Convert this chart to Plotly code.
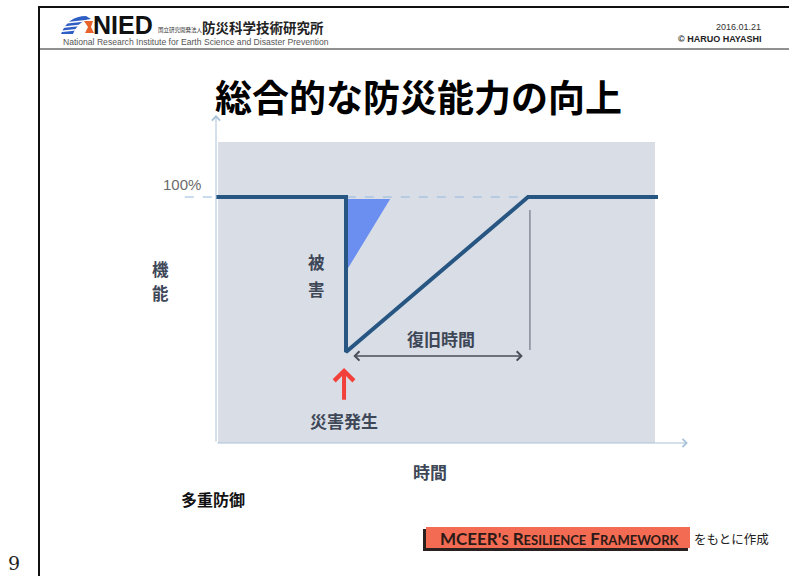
import plotly.graph_objects as go

# ---- Function curve over time (resilience triangle) ----
time = [0, 10, 10, 24, 34]            # disaster at t=10, full recovery at t=24
function_pct = [100, 100, 37, 100, 100]

# Damage wedge drawn just right of the drop
loss_t = [10.15, 13.4, 10.15]
loss_pct = [99.2, 99.2, 71.0]

baseline_pct = 100
disaster_t = 10
recovered_t = 24
panel_t = [0.15, 33.77]
panel_pct = [0, 122.4]
axis_end_t = 36.3
axis_end_pct = 133.3

# Pixel mapping of the chart axes (13 px per time unit, 2.46 px per percent)
W, H = 789, 576
X_ORIGIN, PX_PER_T = 216, 13.0
Y_ORIGIN, PX_PER_PCT = 443, 2.46
x_range = [-X_ORIGIN / PX_PER_T, (W - X_ORIGIN) / PX_PER_T]
y_range = [-(H - Y_ORIGIN) / PX_PER_PCT, Y_ORIGIN / PX_PER_PCT]

def px(x):
    return x / W

def py(y):
    return 1 - y / H

JP = "Noto Sans CJK JP"
LINE_BLUE = "#285683"
AXIS_BLUE = "#a9c3da"
TEXT_SLATE = "#3e4757"

fig = go.Figure()

# Damage wedge
fig.add_trace(go.Scatter(
    x=loss_t, y=loss_pct, mode="lines", fill="toself",
    fillcolor="#6b8ff0", line=dict(width=0, color="#6b8ff0"),
    hoverinfo="skip", showlegend=False))

# Function curve
fig.add_trace(go.Scatter(
    x=time, y=function_pct, mode="lines",
    line=dict(color=LINE_BLUE, width=4), hoverinfo="skip", showlegend=False))

shapes = []
# Background panel
shapes.append(dict(type="rect", xref="x", yref="y", layer="below",
                   x0=panel_t[0], x1=panel_t[1], y0=panel_pct[0], y1=panel_pct[1],
                   fillcolor="#d9dee6", line=dict(width=0)))
# 100% reference line (behind the curve)
shapes.append(dict(type="line", xref="x", yref="y", layer="below",
                   x0=-2.4, x1=recovered_t + 0.1, y0=baseline_pct, y1=baseline_pct,
                   line=dict(color="#93b8dc", width=1, dash="dash")))
# Marker line at recovery end
shapes.append(dict(type="line", xref="x", yref="y",
                   x0=recovered_t + 0.15, x1=recovered_t + 0.15, y0=37.8, y1=94.7,
                   line=dict(color="#5a6270", width=1)))

# Slide frame and header rules
shapes.append(dict(type="line", xref="paper", yref="paper",
                   x0=px(39), x1=1, y0=py(7), y1=py(7), line=dict(color="#111", width=2)))
shapes.append(dict(type="line", xref="paper", yref="paper",
                   x0=px(39), x1=1, y0=py(49), y1=py(49), line=dict(color="#222", width=1)))
shapes.append(dict(type="line", xref="paper", yref="paper",
                   x0=px(39), x1=px(39), y0=py(6), y1=0, line=dict(color="#111", width=2)))

# NIED logo swoosh (blue arch with white stripes) and orange accent
shapes.append(dict(type="path", xref="paper", yref="paper",
                   path=f"M {px(61)},{py(34)} Q {px(68)},{py(16)} {px(86)},{py(16)} "
                        f"L {px(91)},{py(19)} Q {px(79)},{py(20)} {px(73)},{py(34)} Z",
                   fillcolor="#2f5fc4", line=dict(width=0)))
for yy in (22.0, 26.0, 30.0):
    shapes.append(dict(type="line", xref="paper", yref="paper",
                       x0=px(60), x1=px(88), y0=py(yy + 1.5), y1=py(yy - 1.5),
                       line=dict(color="white", width=1.3)))
shapes.append(dict(type="path", xref="paper", yref="paper",
                   path=f"M {px(84)},{py(21)} L {px(93)},{py(21)} L {px(91)},{py(27)} "
                        f"L {px(94)},{py(33)} L {px(85)},{py(33)} L {px(88)},{py(27)} Z",
                   fillcolor="#e8632c", line=dict(width=0)))

# MCEER label box with dark shadow
shapes.append(dict(type="rect", xref="paper", yref="paper",
                   x0=px(423), x1=px(688), y0=py(551), y1=py(529),
                   fillcolor="#2a2020", line=dict(width=0)))
shapes.append(dict(type="rect", xref="paper", yref="paper",
                   x0=px(426), x1=px(690), y0=py(548), y1=py(527),
                   fillcolor="#f26b52", line=dict(width=0)))

annotations = []

def label(text, x, y, size, color="#000", family=JP, xref="paper", yref="paper",
          xanchor="center", yanchor="middle", bold=False):
    annotations.append(dict(
        text=f"<b>{text}</b>" if bold else text, x=x, y=y, xref=xref, yref=yref,
        xanchor=xanchor, yanchor=yanchor, showarrow=False, borderpad=0,
        font=dict(family=family, size=size, color=color)))

# Axes drawn as arrows
annotations.append(dict(x=0, y=axis_end_pct, ax=0, ay=0, xref="x", yref="y",
                        axref="x", ayref="y", text="", showarrow=True,
                        arrowhead=4, arrowsize=1.6, arrowwidth=1, arrowcolor=AXIS_BLUE))
annotations.append(dict(x=axis_end_t, y=0, ax=0, ay=0, xref="x", yref="y",
                        axref="x", ayref="y", text="", showarrow=True,
                        arrowhead=4, arrowsize=1.6, arrowwidth=1, arrowcolor=AXIS_BLUE))
# Recovery time double arrow
annotations.append(dict(x=recovered_t - 0.4, y=35.4, ax=disaster_t + 0.45, ay=35.4,
                        xref="x", yref="y", axref="x", ayref="y", text="",
                        showarrow=True, arrowside="end+start", arrowhead=4,
                        startarrowhead=4, arrowsize=1.2, startarrowsize=1.2,
                        arrowwidth=1.5, arrowcolor="#4a4e5a"))
# Disaster occurrence arrow
annotations.append(dict(x=disaster_t - 0.15, y=30.5, ax=disaster_t - 0.15, ay=17.0,
                        xref="x", yref="y", axref="x", ayref="y", text="",
                        showarrow=True, arrowhead=4, arrowsize=0.95, arrowwidth=4,
                        arrowcolor="#f2413a"))

# Chart texts
label("総合的な防災能力の向上", px(418), py(96), 37, bold=True)
label("100%", -2.6, 104.9, 15, "#6b6b6b", "Liberation Sans", "x", "y")
label("機", px(160), py(269), 16.5, TEXT_SLATE, bold=True)
label("能", px(160), py(293), 16.5, TEXT_SLATE, bold=True)
label("被", px(316), py(262), 16.5, TEXT_SLATE, bold=True)
label("害", px(316), py(289), 16.5, TEXT_SLATE, bold=True)
label("復旧時間", px(441), py(338), 17, TEXT_SLATE, bold=True)
label("災害発生", px(344), py(420), 17, TEXT_SLATE, bold=True)
label("時間", px(430), py(471), 17, TEXT_SLATE, bold=True)
label("多重防御", px(213), py(499), 16, "#111", bold=True)

# Header texts
label("NIED", px(92), py(25), 25, "#111", "Liberation Sans", xanchor="left", bold=True)
label("国立研究開発法人", px(157), py(30), 5.5, "#333", xanchor="left")
label("防災科学技術研究所", px(201), py(27), 13.5, "#222", xanchor="left", bold=True)
label("National Research Institute for Earth Science and Disaster Prevention",
      px(62), py(42), 8.6, "#555", "Liberation Sans", xanchor="left")
label("2016.01.21", px(762), py(27), 9, "#333", "Liberation Sans", xanchor="right")
label("© HARUO HAYASHI", px(762), py(39), 9, "#222", "Liberation Sans",
      xanchor="right", bold=True)

# Footer texts
small = "<span style='font-size:13px'>"
label(f"MCEER'{small}S</span> R{small}ESILIENCE</span> F{small}RAMEWORK</span>",
      px(559), py(538), 17, "#2b1a17", "Lato", bold=True)
label("をもとに作成", px(693), py(538), 12.5, "#222", xanchor="left")
label("9", px(14), py(563), 19, "#222", "DejaVu Serif")

fig.update_layout(
    width=W, height=H,
    margin=dict(l=0, r=0, t=0, b=0),
    paper_bgcolor="white", plot_bgcolor="white",
    xaxis=dict(range=x_range, visible=False, fixedrange=True),
    yaxis=dict(range=y_range, visible=False, fixedrange=True),
    shapes=shapes, annotations=annotations, showlegend=False,
)

fig.write_html("out.html")
